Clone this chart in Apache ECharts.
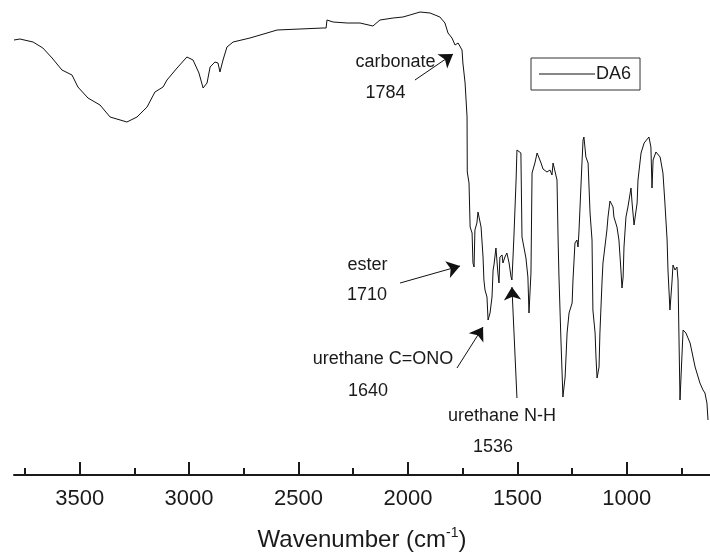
<!DOCTYPE html>
<html>
<head>
<meta charset="utf-8">
<script src="https://cdn.jsdelivr.net/npm/echarts@6/dist/echarts.min.js"></script>
<style>
html,body{margin:0;padding:0;background:#fff;}
#chart{width:710px;height:553px;}
</style>
</head>
<body>
<div id="chart"></div>
<script>
// Wavenumber (cm-1) of each traced point of the DA6 spectrum
const wavenumbers = [
  3800,3773,3713,3668,3626,3581,3535,3508,3462,3407,3361,3284,3238,3192,3156,3119,3101,3055,3010,2982,
  2955,2936,2918,2904,2882,2868,2859,2845,2827,2799,2722,2644,2598,2493,2388,2374,2370,2342,2278,2219,
  2160,2128,2068,2023,1991,1945,1899,1854,1831,1817,1799,1785,1771,1753,1749,1739,1730,1729,1721,1716,
  1707,1703,1698,1694,1685,1680,1671,1666,1657,1653,1648,1639,1634,1625,1616,1611,1607,1598,1593,1589,
  1584,1580,1570,1566,1557,1548,1538,1529,1525,1520,1516,1506,1502,1497,1484,1479,1475,1470,1461,1452,
  1447,1438,1433,1420,1410,1401,1392,1383,1365,1351,1342,1337,1328,1319,1314,1310,1301,1292,1282,1273,
  1264,1250,1246,1237,1228,1223,1219,1205,1200,1196,1187,1177,1168,1159,1155,1145,1141,1136,1127,1123,
  1113,1109,1104,1091,1086,1077,1063,1059,1045,1036,1027,1022,1017,1013,1004,995,981,976,967,953,
  949,935,921,899,890,885,880,867,848,835,826,816,812,803,794,789,780,771,766,757,
  743,730,711,688,666,652,643,634,629
];
// Transmittance (a.u.) at each wavenumber
const transmittance = [
  87.0,87.2,86.6,85.4,83.4,81.0,80.0,77.6,75.4,74.0,71.6,70.6,71.6,73.6,76.6,77.6,79.0,81.4,83.6,83.0,
  80.4,77.4,78.4,81.6,82.6,82.4,80.6,83.0,85.6,86.6,87.4,88.4,89.0,89.2,89.4,89.4,91.0,90.6,90.4,90.4,
  89.8,91.0,91.4,91.6,92.0,92.6,92.4,91.6,90.4,88.4,87.4,86.0,86.4,85.0,82.4,78.4,71.6,60.6,58.4,49.6,
  48.4,42.4,41.6,49.0,50.4,52.6,52.4,49.6,43.6,39.0,37.0,35.6,31.0,32.4,35.6,41.0,42.0,45.4,45.0,40.4,
  38.4,43.6,44.0,42.4,43.6,44.4,42.4,39.6,39.0,43.6,47.6,59.0,65.0,65.4,64.4,47.6,47.6,48.0,43.4,39.6,
  32.4,40.4,60.4,62.4,64.4,64.0,62.4,61.2,60.6,61.0,60.0,62.4,62.4,59.0,47.0,39.6,27.0,15.6,19.6,28.4,
  32.4,34.4,39.0,46.4,47.0,45.6,48.4,62.4,67.0,67.6,63.6,62.4,52.4,47.0,33.0,28.4,23.6,19.4,21.6,28.4,
  39.0,42.4,42.6,49.0,51.6,54.8,53.6,51.6,49.6,47.0,41.0,37.4,39.6,45.6,51.6,53.6,57.4,54.4,50.0,54.4,
  59.0,64.4,66.4,67.6,65.6,57.4,63.0,64.6,63.6,60.4,54.4,47.0,41.0,33.0,38.4,42.0,41.0,41.6,39.0,15.0,
  29.0,28.4,26.4,21.6,18.4,17.0,16.4,14.4,11.0
];

const seriesName = 'DA6';
const majorTicks = [1000, 1500, 2000, 2500, 3000, 3500];
const minorTicks = [750, 1250, 1750, 2250, 2750, 3250, 3750];

// Annotation texts and their anchor points [wavenumber, transmittance]
const annotationTexts = ['carbonate', '1784', 'ester', '1710', 'urethane C=ONO', '1640', 'urethane N-H', '1536'];
const annotationAnchors = [
  [2057, 82.6], [2103, 76.4], [2185, 42.0], [2187, 36.0],
  [2114, 23.2], [2183, 16.8], [1570, 11.8], [1611, 5.6]
];
// Arrows: tail -> head in [wavenumber, transmittance]
const arrowTails = [[1968, 79.0], [2036, 38.4], [1776, 21.4], [1502, 15.4]];
const arrowHeads = [[1794, 84.2], [1762, 41.8], [1657, 29.6], [1525, 37.6]];

const FONT = '"Liberation Sans", Arial, Helvetica, sans-serif';
const INK = '#1a1a1a';

const chart = echarts.init(document.getElementById('chart'), null, {renderer: 'canvas'});

const lineData = wavenumbers.map((w, i) => [w, transmittance[i]]);
const pointData = annotationTexts.map((t, i) => ({
  coord: annotationAnchors[i],
  value: t,
  label: {formatter: t}
}));
const arrowData = arrowTails.map((t, i) => [{coord: t}, {coord: arrowHeads[i]}]);

const xCommon = {
  type: 'value',
  inverse: true,
  min: 620,
  max: 3800,
  splitLine: {show: false}
};

chart.setOption({
  animation: false,
  backgroundColor: '#ffffff',
  grid: {left: 14, right: 0, top: 0, bottom: 78, containLabel: false, outerBoundsMode: 'none'},
  legend: {
    data: [{name: seriesName, icon: 'rect'}],
    left: 531,
    top: 58,
    orient: 'horizontal',
    borderColor: '#333',
    borderWidth: 1,
    borderRadius: 0,
    padding: [7, 9, 7, 8],
    itemWidth: 56,
    itemHeight: 1,
    itemStyle: {color: '#111', borderWidth: 0},
    lineStyle: {width: 0, opacity: 0},
    selectedMode: false,
    textStyle: {fontFamily: FONT, fontSize: 18, color: INK, padding: [0, 0, 0, -4]}
  },
  xAxis: [
    Object.assign({}, xCommon, {
      position: 'bottom',
      name: 'Wavenumber (cm{sup|-1})',
      nameLocation: 'middle',
      nameGap: 51,
      nameTextStyle: {
        fontFamily: FONT, fontSize: 24, color: INK, lineHeight: 28,
        rich: {sup: {fontFamily: FONT, fontSize: 14, color: INK, verticalAlign: 'top', lineHeight: 28}}
      },
      axisLine: {show: true, onZero: false, lineStyle: {color: INK, width: 2}},
      axisTick: {show: true, inside: true, length: 13, lineStyle: {color: INK, width: 2}, customValues: majorTicks},
      axisLabel: {show: true, margin: 13, fontFamily: FONT, fontSize: 22, color: INK, customValues: majorTicks,
        formatter: v => String(v)}
    }),
    Object.assign({}, xCommon, {
      position: 'bottom',
      axisLine: {show: false, onZero: false},
      axisTick: {show: true, inside: true, length: 7, lineStyle: {color: INK, width: 2}, customValues: minorTicks},
      axisLabel: {show: false}
    })
  ],
  yAxis: {
    type: 'value',
    min: 0,
    max: 95,
    show: false,
    splitLine: {show: false}
  },
  series: [{
    name: seriesName,
    type: 'line',
    xAxisIndex: 0,
    data: lineData,
    symbol: 'none',
    showSymbol: false,
    smooth: false,
    lineStyle: {color: '#111', width: 1},
    itemStyle: {color: '#111'},
    emphasis: {disabled: true},
    markPoint: {
      symbol: 'circle',
      symbolSize: 0,
      silent: true,
      label: {show: true, position: 'inside', fontFamily: FONT, fontSize: 18, color: INK},
      data: pointData
    },
    markLine: {
      silent: true,
      symbol: ['none', 'arrow'],
      symbolSize: 13,
      label: {show: false},
      lineStyle: {color: '#111', width: 1, type: 'solid'},
      emphasis: {disabled: true},
      data: arrowData
    }
  }]
});
</script>
</body>
</html>
